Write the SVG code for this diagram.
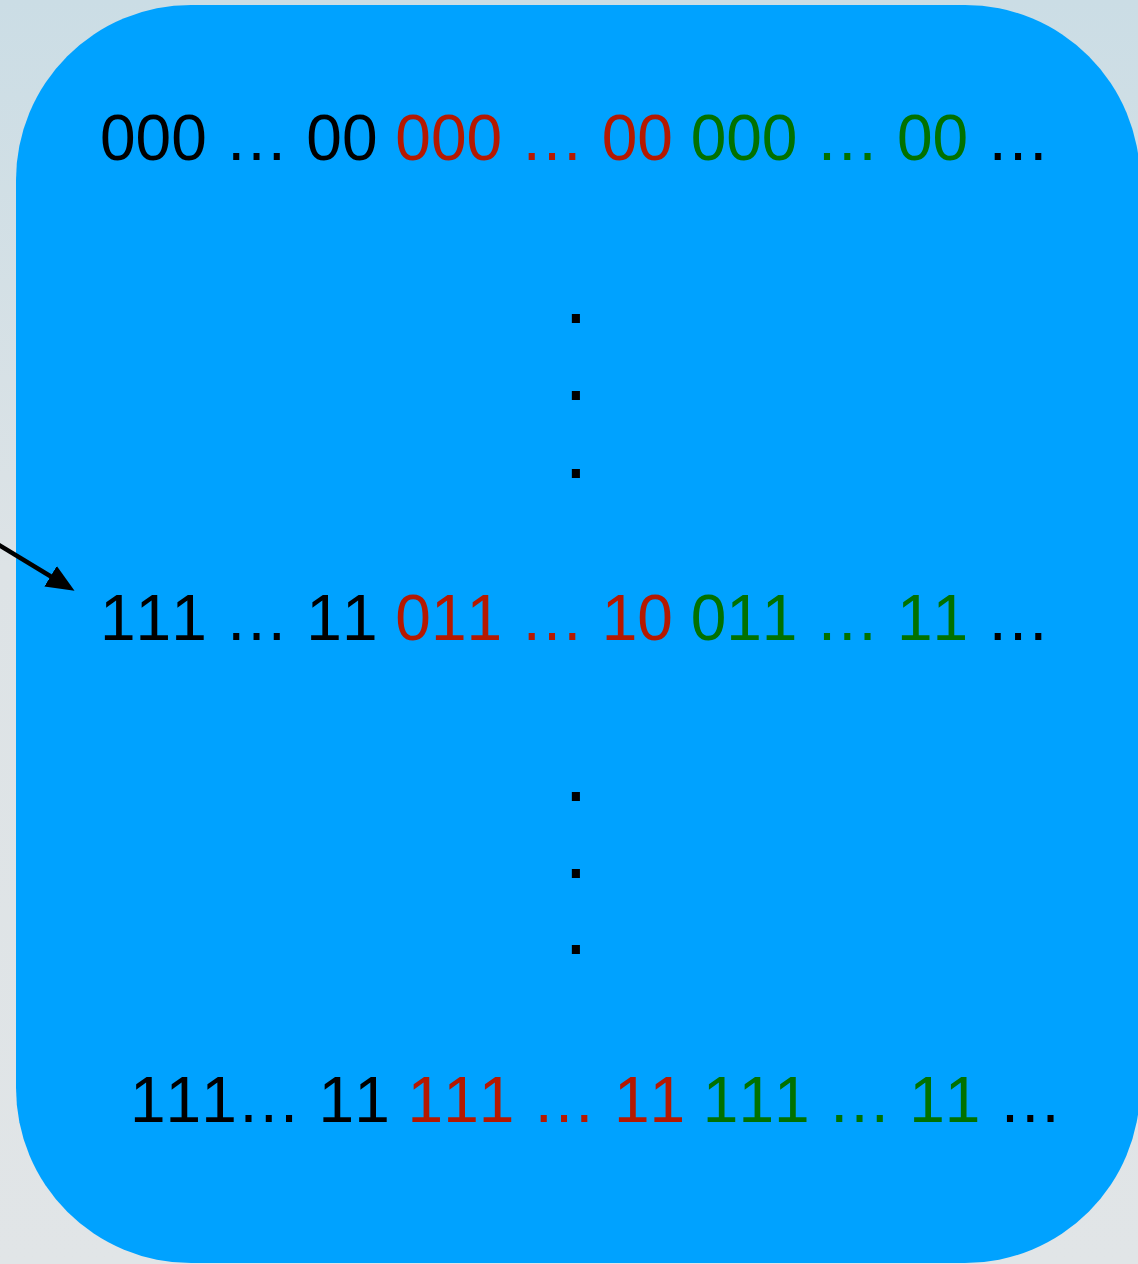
<svg xmlns="http://www.w3.org/2000/svg" width="1138" height="1264" viewBox="0 0 1138 1264">
  <defs>
    <linearGradient id="bg" x1="0" y1="0" x2="0" y2="1">
      <stop offset="0" stop-color="#CBDDE5"/>
      <stop offset="0.45" stop-color="#DDE3E6"/>
      <stop offset="1" stop-color="#E1E5E7"/>
    </linearGradient>
    <marker id="arrow" viewBox="0 0 28 24" refX="11" refY="12" markerWidth="28" markerHeight="24" markerUnits="userSpaceOnUse" orient="auto">
      <path d="M0,0 L28,12 L0,24 z" fill="#000"/>
    </marker>
    <style>
      text { font-kerning: none; font-feature-settings: "kern" 0; }
      .row { font-family: "Liberation Sans", Arial, Helvetica, sans-serif; font-size: 64px; }
      .k { fill: #000000; }
      .r { fill: #B51800; }
      .g { fill: #017100; }
      .dot { font-family: "Liberation Sans", Arial, sans-serif; font-size: 64px; fill: #000; stroke: #000; stroke-width: 2; }
    </style>
  </defs>
  <rect x="0" y="0" width="1138" height="1264" fill="url(#bg)"/>
  <g id="box">
    <rect x="16" y="5" width="1124" height="1258" rx="175" ry="175" fill="#00A2FF"/>
  </g>
  <g id="row-top">
    <text class="row" x="100" y="160" xml:space="preserve"><tspan class="k">000 … 00 </tspan><tspan class="r">000 … 00 </tspan><tspan class="g">000 … 00 </tspan><tspan class="k">…</tspan></text>
  </g>
  <g id="dots-upper">
    <text class="dot" x="567" y="322">.</text>
    <text class="dot" x="567" y="399">.</text>
    <text class="dot" x="567" y="477">.</text>
  </g>
  <g id="row-middle">
    <text class="row" x="100" y="640" xml:space="preserve"><tspan class="k">111 … 11 </tspan><tspan class="r">011 … 10 </tspan><tspan class="g">011 … 11 </tspan><tspan class="k">…</tspan></text>
  </g>
  <g id="dots-lower">
    <text class="dot" x="567" y="800">.</text>
    <text class="dot" x="567" y="877">.</text>
    <text class="dot" x="567" y="953">.</text>
  </g>
  <g id="row-bottom">
    <text class="row" x="130" y="1122" xml:space="preserve"><tspan class="k">111… 11 </tspan><tspan class="r">111 … 11 </tspan><tspan class="g">111 … 11 </tspan><tspan class="k">…</tspan></text>
  </g>
  <g id="connectors">
    <line x1="-6" y1="542" x2="60" y2="582" stroke="#000" stroke-width="4.5" marker-end="url(#arrow)"/>
  </g>
</svg>
